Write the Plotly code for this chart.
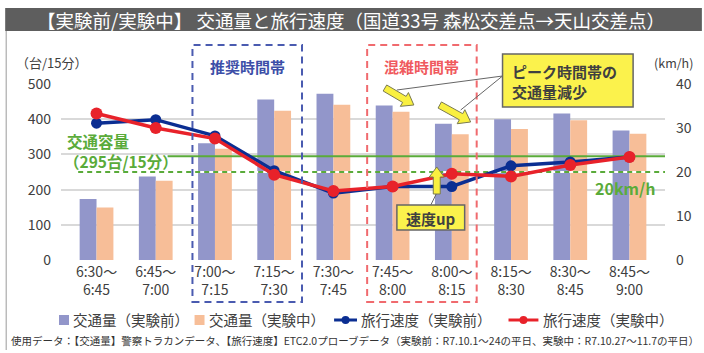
import plotly.graph_objects as go

# ---- data ----
slot_start = ["6:30", "6:45", "7:00", "7:15", "7:30", "7:45", "8:00", "8:15", "8:30", "8:45"]
slot_end = ["6:45", "7:00", "7:15", "7:30", "7:45", "8:00", "8:15", "8:30", "8:45", "9:00"]
volume_before = [173, 237, 332, 456, 472, 439, 387, 400, 416, 368]   # 台/15分
volume_during = [149, 225, 316, 424, 441, 421, 357, 372, 397, 359]
speed_before = [31.1, 31.9, 28.2, 20.3, 15.2, 16.7, 16.7, 21.4, 22.3, 23.4]  # km/h
speed_during = [33.3, 30.0, 27.6, 19.4, 15.7, 16.7, 19.6, 19.0, 21.6, 23.4]
capacity = 295          # 交通容量 (台/15分)
speed_ref = 20          # km/h reference line

tick_text = [f"{a}～<br>{b}" for a, b in zip(slot_start, slot_end)]
xs = list(range(len(slot_start)))

FONT = "Noto Sans CJK JP"
C_BAR_B = "#9296ca"
C_BAR_D = "#f7be98"
C_SPD_B = "#0b2e92"
C_SPD_D = "#e8222a"
C_GREEN = "#5aab3a"
C_TXT = "#404040"

# ---- canvas geometry (pixels) ----
W, H = 704, 353
L, R, T, B = 61, 667, 84, 260


def px(x):
    return (x - L) / (R - L)


def py(y):
    return (B - y) / (B - T)


def arrow_path(tail, tip, shaft=7.0, head_w=16.0, head_len=11.0):
    (x0, y0), (x1, y1) = tail, tip
    dx, dy = x1 - x0, y1 - y0
    n = (dx * dx + dy * dy) ** 0.5
    ux, uy = dx / n, dy / n
    vx, vy = -uy, ux
    bx, by = x1 - ux * head_len, y1 - uy * head_len
    pts = [
        (x0 + vx * shaft / 2, y0 + vy * shaft / 2),
        (bx + vx * shaft / 2, by + vy * shaft / 2),
        (bx + vx * head_w / 2, by + vy * head_w / 2),
        (x1, y1),
        (bx - vx * head_w / 2, by - vy * head_w / 2),
        (bx - vx * shaft / 2, by - vy * shaft / 2),
        (x0 - vx * shaft / 2, y0 - vy * shaft / 2),
    ]
    return "M " + " L ".join(f"{px(a):.5f},{py(b):.5f}" for a, b in pts) + " Z"


fig = go.Figure()

# traffic volume bars
fig.add_trace(go.Bar(x=xs, y=volume_before, name="交通量（実験前）",
                     marker=dict(color=C_BAR_B, line=dict(width=0))))
fig.add_trace(go.Bar(x=xs, y=volume_during, name="交通量（実験中）",
                     marker=dict(color=C_BAR_D, line=dict(width=0))))

# capacity line (left axis)
fig.add_trace(go.Scatter(x=[1.2, 9.6], y=[capacity, capacity], mode="lines",
                         line=dict(color=C_GREEN, width=2), showlegend=False,
                         hoverinfo="skip"))

# 20 km/h reference (right axis)
fig.add_trace(go.Scatter(x=[-0.31, 9.6], y=[speed_ref, speed_ref], mode="lines",
                         line=dict(color="white", width=2.2), yaxis="y2",
                         showlegend=False, hoverinfo="skip"))
fig.add_trace(go.Scatter(x=[-0.31, 9.6], y=[speed_ref, speed_ref], mode="lines",
                         line=dict(color=C_GREEN, width=2, dash="5px,4px"), yaxis="y2",
                         showlegend=False, hoverinfo="skip"))

# travel speed lines
fig.add_trace(go.Scatter(x=xs, y=speed_before, name="旅行速度（実験前）", yaxis="y2",
                         mode="lines+markers", line=dict(color=C_SPD_B, width=3.5),
                         marker=dict(color=C_SPD_B, size=11)))
fig.add_trace(go.Scatter(x=xs, y=speed_during, name="旅行速度（実験中）", yaxis="y2",
                         mode="lines+markers", line=dict(color=C_SPD_D, width=3.5),
                         marker=dict(color=C_SPD_D, size=12)))

shapes = []
ann = []

# title band
shapes.append(dict(type="rect", xref="paper", yref="paper",
                   x0=px(5), x1=px(704), y0=py(8), y1=py(31),
                   fillcolor="#5e5e5e", line=dict(width=0), layer="below"))
ann.append(dict(text="【実験前/実験中】 交通量と旅行速度（国道33号 森松交差点→天山交差点）",
                x=px(352), y=py(19.5), font=dict(size=18.5, color="white")))
# left frame line
shapes.append(dict(type="line", xref="paper", yref="paper",
                   x0=px(6), x1=px(6), y0=py(31), y1=py(350),
                   line=dict(color="#9a9a9a", width=1)))

# time band boxes
shapes.append(dict(type="rect", xref="x", yref="paper", x0=1.62, x1=3.47,
                   y0=py(302), y1=py(45), line=dict(color="#4a5bb0", width=2, dash="7px,5px")))
shapes.append(dict(type="rect", xref="x", yref="paper", x0=4.57, x1=6.42,
                   y0=py(302), y1=py(45), line=dict(color="#f06a6e", width=2, dash="7px,5px")))
ann.append(dict(text="<b>推奨時間帯</b>", x=px(248), y=py(66),
                font=dict(size=15, color="#3d4fa8")))
ann.append(dict(text="<b>混雑時間帯</b>", x=px(423), y=py(66),
                font=dict(size=15, color="#f05a5e")))

# axis unit labels
ann.append(dict(text="（台/15分）", x=px(14), y=py(62), xanchor="left",
                font=dict(size=13, color=C_TXT)))
ann.append(dict(text="(km/h)", x=px(676), y=py(62),
                font=dict(size=12.5, color=C_TXT)))

# capacity / speed labels
ann.append(dict(text="<b>\u2009交通容量<br>（295台/15分）</b>", x=px(62), y=py(151),
                xanchor="left", align="left",
                font=dict(size=15.5, color=C_GREEN)))
ann.append(dict(text="<b>20km/h</b>", x=px(627), y=py(188),
                font=dict(size=16, color=C_GREEN)))

# callout: peak-time volume reduction
shapes.append(dict(type="line", xref="paper", yref="paper",
                   x0=px(504), y0=py(76), x1=px(398), y1=py(90),
                   line=dict(color="#666666", width=1)))
shapes.append(dict(type="line", xref="paper", yref="paper",
                   x0=px(504), y0=py(76), x1=px(462), y1=py(110),
                   line=dict(color="#666666", width=1)))
for tail, tip in [((386, 88), (415, 105)), ((441, 105), (472, 122))]:
    shapes.append(dict(type="path", xref="paper", yref="paper",
                       path=arrow_path(tail, tip),
                       fillcolor="#f9f040", line=dict(color="#7a7a50", width=1)))
shapes.append(dict(type="rect", xref="paper", yref="paper",
                   x0=px(504), x1=px(635), y0=py(107), y1=py(54),
                   fillcolor="#fbf24c", line=dict(color="#666666", width=1.5)))
ann.append(dict(text="<b>ピーク時間帯の<br>交通量減少</b>", x=px(511), y=py(81),
                xanchor="left", align="left",
                font=dict(size=15, color=C_TXT)))

# callout: speed up
shapes.append(dict(type="line", xref="paper", yref="paper",
                   x0=px(438), y0=py(193), x1=px(432), y1=py(205),
                   line=dict(color="#666666", width=1)))
shapes.append(dict(type="path", xref="paper", yref="paper",
                   path=arrow_path((438, 194), (438, 167), shaft=7, head_w=15, head_len=10),
                   fillcolor="#f9f040", line=dict(color="#7a7a50", width=1)))
shapes.append(dict(type="rect", xref="paper", yref="paper",
                   x0=px(398), x1=px(466), y0=py(230), y1=py(205),
                   fillcolor="#fbf24c", line=dict(color="#666666", width=1.5)))
ann.append(dict(text="<b>速度up</b>", x=px(432), y=py(218),
                font=dict(size=15, color=C_TXT)))

# legend (drawn manually)
LEG_Y = 320
for x0, col in [(59, C_BAR_B), (195, C_BAR_D)]:
    shapes.append(dict(type="rect", xref="paper", yref="paper",
                       x0=px(x0), x1=px(x0 + 10), y0=py(LEG_Y + 5), y1=py(LEG_Y - 5),
                       fillcolor=col, line=dict(width=0)))
for x0, x1, col in [(335, 358, C_SPD_B), (510, 540, C_SPD_D)]:
    shapes.append(dict(type="line", xref="paper", yref="paper",
                       x0=px(x0), x1=px(x1), y0=py(LEG_Y), y1=py(LEG_Y),
                       line=dict(color=col, width=3)))
    cx = (x0 + x1) / 2
    shapes.append(dict(type="circle", xref="paper", yref="paper",
                       x0=px(cx - 4), x1=px(cx + 4), y0=py(LEG_Y + 4), y1=py(LEG_Y - 4),
                       fillcolor=col, line=dict(width=0)))
for xl, label in [(71, "交通量（実験前）"), (207, "交通量（実験中）"),
                  (360, "旅行速度（実験前）"), (543, "旅行速度（実験中）")]:
    ann.append(dict(text=label, x=px(xl), y=py(LEG_Y - 1), xanchor="left",
                    font=dict(size=14.5, color=C_TXT)))

# source note
ann.append(dict(text="使用データ：【交通量】警察トラカンデータ、【旅行速度】ETC2.0プローブデータ"
                     "（実験前：R7.10.1～24の平日、実験中：R7.10.27～11.7の平日）",
                x=px(9), y=py(340), xanchor="left",
                font=dict(size=10.5, color="#333333")))

for a in ann:
    a.setdefault("xref", "paper")
    a.setdefault("yref", "paper")
    a.setdefault("showarrow", False)
    a.setdefault("xanchor", "center")
    a.setdefault("yanchor", "middle")

fig.update_layout(
    width=W, height=H,
    margin=dict(l=L, r=W - R, t=T, b=H - B, pad=0),
    paper_bgcolor="white", plot_bgcolor="white",
    font=dict(family=FONT, color=C_TXT),
    showlegend=False,
    barmode="group", bargap=0.43, bargroupgap=0,
    xaxis=dict(range=[-0.6, 9.6], tickmode="array", tickvals=xs, ticktext=tick_text,
               tickfont=dict(size=14, color=C_TXT), showgrid=False, zeroline=False,
               showline=False, ticks="", fixedrange=True, ticklabelstandoff=2),
    yaxis=dict(range=[0, 500], dtick=100, tickfont=dict(size=14, color=C_TXT),
               gridcolor="#d9d9d9", gridwidth=1.5, zeroline=False, showline=False,
               ticklabelstandoff=9),
    yaxis2=dict(range=[0, 40], dtick=10, overlaying="y", side="right",
                tickfont=dict(size=14, color=C_TXT), showgrid=False, zeroline=False,
                showline=False, ticklabelstandoff=10),
    shapes=shapes,
    annotations=ann,
)

fig.write_html("out.html")
